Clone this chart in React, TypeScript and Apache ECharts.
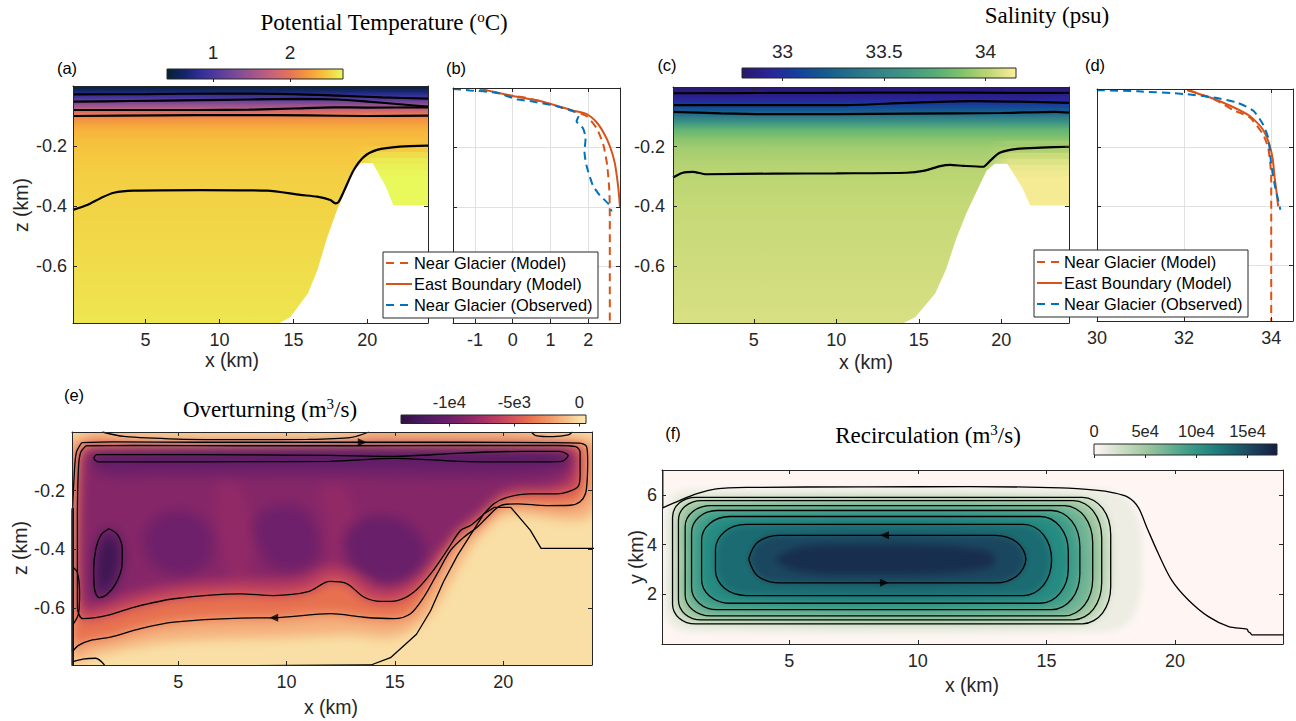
import React, { useEffect, useRef } from 'react';
import * as echarts from 'echarts';

// ===================== data =====================

// Bottom topography along the fjord section: distance x (km), bottom z (km)
const bathX = [0, 13.9, 14.8, 16.0, 16.65, 17.25, 17.9, 18.5, 19.1, 19.6, 20.35, 21.25, 21.75, 24.3];
const bathZ = [-0.8, -0.795, -0.77, -0.69, -0.61, -0.51, -0.42, -0.35, -0.28, -0.257, -0.257, -0.335, -0.397, -0.397];

// (a) potential temperature (°C) against depth in the main basin
const tempDepth = [0, -0.01, -0.02, -0.03, -0.04, -0.05, -0.06, -0.07, -0.08, -0.09, -0.1, -0.11, -0.13, -0.15, -0.18, -0.22, -0.3, -0.4, -0.55, -0.7, -0.79];
const tempBasin = [0.45, 0.55, 0.7, 0.85, 1.0, 1.2, 1.4, 1.6, 1.8, 2.0, 2.1, 2.18, 2.3, 2.37, 2.42, 2.46, 2.5, 2.52, 2.55, 2.58, 2.6];
// water held behind the sill (east of x ≈ 20 km)
const eastDepth = [-0.18, -0.2, -0.22, -0.24, -0.26, -0.28, -0.3, -0.34, -0.38, -0.42];
const tempEast = [2.42, 2.48, 2.56, 2.62, 2.65, 2.67, 2.68, 2.68, 2.68, 2.68];

// (c) salinity (psu) against depth
const salDepth = [0, -0.01, -0.02, -0.03, -0.04, -0.05, -0.06, -0.07, -0.08, -0.09, -0.1, -0.12, -0.14, -0.17, -0.2, -0.25, -0.3, -0.4, -0.6, -0.79];
const salBasin = [32.82, 32.84, 32.87, 32.9, 32.94, 33.0, 33.08, 33.15, 33.22, 33.32, 33.42, 33.62, 33.78, 33.89, 33.95, 33.99, 34.01, 34.03, 34.05, 34.07];
const salEast = [33.95, 33.98, 34.04, 34.08, 34.11, 34.12, 34.13, 34.13, 34.13, 34.13];

// (a) isotherms [x km, z km]
const tempIso1 = [[0.1, -0.028], [5, -0.027], [10, -0.025], [15, -0.027], [18, -0.032], [21, -0.038], [24.1, -0.042]];
const tempIso2 = [[0.1, -0.052], [4, -0.05], [8.7, -0.047], [12, -0.045], [15.5, -0.043], [18, -0.045], [20, -0.052], [22, -0.06], [24.1, -0.069]];
const tempIso3 = [[0.1, -0.08], [5, -0.08], [8.7, -0.08], [12, -0.079], [15, -0.075], [17.7, -0.071], [20, -0.072], [24.1, -0.071]];
const tempIso4 = [[0.1, -0.1], [6, -0.098], [11, -0.097], [16, -0.098], [20, -0.1], [24.1, -0.099]];
const tempIso5 = [[0.1, -0.413], [1.06, -0.397], [1.96, -0.374], [2.86, -0.356], [4.21, -0.349], [8.71, -0.347], [13.22, -0.349], [15.47, -0.363], [16.6, -0.369], [17.5, -0.38], [17.84, -0.391], [18.06, -0.386], [18.4, -0.352], [19.08, -0.28], [19.76, -0.236], [20.65, -0.213], [22.2, -0.202], [24.1, -0.199]];

// (c) isohalines
const salIso1 = [[0.1, -0.021], [6, -0.02], [12, -0.019], [18, -0.019], [24.1, -0.02]];
const salIso2 = [[0.1, -0.061], [5, -0.061], [10.2, -0.061], [14.3, -0.053], [18.3, -0.047], [21, -0.049], [24.1, -0.053]];
const salIso3 = [[0.1, -0.083], [3, -0.088], [6.15, -0.091], [10, -0.091], [14.3, -0.089], [20, -0.087], [23.3, -0.083], [24.1, -0.086]];
const salIso4 = [[0.1, -0.303], [0.7, -0.287], [1.3, -0.284], [2.1, -0.292], [6.15, -0.29], [10, -0.289], [14.25, -0.287], [15.26, -0.281], [16.3, -0.265], [16.9, -0.261], [17.7, -0.264], [18.9, -0.267], [19.3, -0.248], [19.9, -0.22], [20.95, -0.207], [22.4, -0.203], [24.1, -0.2]];

// (b) temperature profiles [°C, z km]
const tNearModel = [[-0.87, -0.003], [-0.42, -0.016], [-0.07, -0.025], [0.28, -0.031], [0.72, -0.044], [1.16, -0.061], [1.6, -0.078], [1.96, -0.095], [2.22, -0.135], [2.4, -0.191], [2.5, -0.259], [2.56, -0.349], [2.57, -0.44], [2.57, -0.79]];
const tEastModel = [[-0.87, -0.003], [-0.07, -0.025], [0.72, -0.044], [1.6, -0.076], [1.96, -0.088], [2.22, -0.115], [2.4, -0.149], [2.57, -0.195], [2.7, -0.251], [2.79, -0.33], [2.84, -0.4]];
const tNearObs = [[-1.58, -0.003], [-1.13, -0.008], [-0.43, -0.016], [0.11, -0.038], [0.46, -0.044], [1.16, -0.061], [1.6, -0.078], [1.74, -0.095], [1.69, -0.112], [1.86, -0.135], [1.93, -0.168], [1.9, -0.214], [1.95, -0.259], [2.12, -0.327], [2.3, -0.36], [2.53, -0.389], [2.62, -0.415]];

// (d) salinity profiles [psu, z km]
const sNearModel = [[32.11, -0.004], [32.76, -0.04], [33.13, -0.072], [33.51, -0.097], [33.81, -0.154], [33.93, -0.2], [33.98, -0.257], [34.0, -0.303], [34.0, -0.79]];
const sEastModel = [[32.07, -0.004], [32.6, -0.029], [33.06, -0.057], [33.51, -0.092], [33.78, -0.132], [33.93, -0.177], [34.03, -0.234], [34.08, -0.303], [34.12, -0.349], [34.16, -0.4]];
const sNearObs = [[30.0, -0.004], [30.94, -0.008], [32.0, -0.017], [32.68, -0.029], [33.21, -0.046], [33.59, -0.074], [33.81, -0.12], [33.93, -0.166], [33.97, -0.212], [34.0, -0.257], [34.08, -0.326], [34.15, -0.372], [34.21, -0.411]];
const legendLabels = ['Near Glacier (Model)', 'East Boundary (Model)', 'Near Glacier (Observed)'];

// (e) overturning streamfunction: contours [x km, z km]
const ovtIsoOuter = [[0.55, -0.036], [2, -0.034], [6, -0.035], [10, -0.035], [13.5, -0.035], [18, -0.035], [22, -0.036], [23.5, -0.038], [23.85, -0.05], [23.9, -0.1], [23.88, -0.16], [23.8, -0.21], [23.55, -0.238], [23.1, -0.25], [22, -0.251], [20.65, -0.245], [19.88, -0.251], [19.26, -0.291], [18.8, -0.325], [18.18, -0.359], [17.57, -0.404], [16.95, -0.484], [16.34, -0.563], [15.72, -0.62], [14.95, -0.637], [13.57, -0.632], [12.03, -0.62], [9.41, -0.634], [7.88, -0.635], [4.8, -0.649], [3.26, -0.671], [1.88, -0.7], [0.96, -0.711], [0.4, -0.728], [0.12, -0.75], [0.12, -0.3], [0.2, -0.15], [0.3, -0.07], [0.55, -0.036]];
const ovtIsoInner = [[0.75, -0.047], [3, -0.046], [8, -0.047], [13, -0.047], [18, -0.046], [22.5, -0.046], [23.35, -0.05], [23.55, -0.07], [23.55, -0.15], [23.42, -0.189], [22.49, -0.211], [21.26, -0.211], [20.18, -0.223], [19.57, -0.245], [18.95, -0.291], [18.49, -0.319], [18.03, -0.336], [17.41, -0.404], [16.65, -0.484], [15.88, -0.546], [15.11, -0.575], [14.34, -0.578], [13.57, -0.563], [12.8, -0.518], [12.0, -0.51], [11.0, -0.545], [9.41, -0.558], [7.88, -0.552], [4.8, -0.569], [2.95, -0.598], [1.72, -0.626], [0.6, -0.637], [0.35, -0.6], [0.35, -0.3], [0.4, -0.12], [0.5, -0.07], [0.75, -0.047]];
const ovtIsoTop = [[1.1, -0.09], [1.25, -0.077], [4, -0.077], [8, -0.078], [12, -0.08], [15, -0.083], [18, -0.072], [21, -0.066], [22.6, -0.066], [23.0, -0.08], [22.7, -0.1], [21, -0.102], [18, -0.1], [15, -0.09], [12, -0.1], [8, -0.101], [4, -0.102], [1.3, -0.102], [1.1, -0.09]];
const ovtIsoWest = [[1.8, -0.33], [2.2, -0.35], [2.42, -0.4], [2.4, -0.46], [2.1, -0.52], [1.7, -0.555], [1.35, -0.565], [1.15, -0.54], [1.1, -0.47], [1.2, -0.4], [1.45, -0.35], [1.8, -0.33]];
const ovtIsoSurface = [[1.5, 0], [2.5, -0.015], [5, -0.024], [8, -0.026], [11, -0.025], [13, -0.018], [13.8, 0]];
const ovtIsoCorner = [[21.3, 0], [21.5, -0.012], [22.3, -0.016], [23, -0.01], [23.2, 0]];
const ovtIsoFloor = [[0.1, -0.785], [0.6, -0.775], [1.2, -0.772], [1.6, -0.795]];
const ovtIsoWall = [[0.13, -0.26], [0.13, -0.795]];
const ovtIsoWallLoop = [[0.12, -0.46], [0.35, -0.48], [0.45, -0.55], [0.4, -0.62], [0.12, -0.66]];
// (e) shaded regions of the streamfunction that carry no contour
const ovtHalo = [[0.1, -0.022], [24.05, -0.022], [24.1, -0.28], [20.3, -0.28], [19.5, -0.31], [18.5, -0.39], [17.6, -0.5], [16.8, -0.6], [15.9, -0.67], [14.8, -0.7], [13, -0.69], [10, -0.7], [7, -0.705], [4, -0.72], [1.8, -0.75], [0.8, -0.77], [0.1, -0.79]];
const ovtInterior = [[1, -0.06], [23, -0.06], [23.2, -0.14], [22.3, -0.185], [20.2, -0.2], [19.2, -0.26], [18, -0.33], [16.8, -0.43], [15.6, -0.51], [14.4, -0.53], [13.2, -0.48], [12, -0.455], [10.6, -0.5], [8, -0.505], [5, -0.52], [3, -0.55], [1.5, -0.585], [0.6, -0.59], [0.55, -0.1]];
const ovtStreakA = [[6.8, -0.18], [7.6, -0.17], [8.4, -0.3], [8.3, -0.48], [7.4, -0.5], [6.9, -0.35]];
const ovtStreakB = [[11.5, -0.2], [12.5, -0.18], [13.2, -0.3], [12.8, -0.42], [12.0, -0.44], [11.8, -0.3]];
const ovtBlobA = [[3.4, -0.35], [4.2, -0.28], [5.4, -0.27], [6.4, -0.32], [6.6, -0.41], [6.0, -0.47], [5, -0.49], [3.8, -0.45]];
const ovtBlobB = [[8.5, -0.3], [9.5, -0.25], [10.7, -0.26], [11.4, -0.33], [11.4, -0.43], [10.5, -0.47], [9.4, -0.46], [8.6, -0.38]];
const ovtBlobC = [[12.7, -0.35], [13.8, -0.29], [15.3, -0.3], [16.3, -0.37], [16.3, -0.46], [15.3, -0.51], [14, -0.51], [12.9, -0.44]];
const ovtBand = [[1.2, -0.065], [22.8, -0.06], [23, -0.11], [21, -0.15], [12, -0.15], [4, -0.15], [1.3, -0.14]];
const ovtCoreTop = [[3, -0.082], [22, -0.072], [22.4, -0.085], [21, -0.095], [3, -0.097]];
const ovtCoreWest = [[1.6, -0.38], [2.1, -0.38], [2.15, -0.45], [1.8, -0.52], [1.4, -0.53], [1.3, -0.45]];
const ovtPolys = [ovtHalo, ovtIsoOuter, ovtIsoInner, ovtInterior, ovtStreakA, ovtStreakB, ovtBlobA, ovtBlobB, ovtBlobC, ovtBand, ovtIsoTop, ovtCoreTop, ovtIsoWest, ovtCoreWest, ovtIsoSurface];
const ovtValues = [-1500, -3800, -6400, -8800, -8200, -8200, -9800, -9800, -10100, -9900, -11200, -11900, -11800, -12800, 300];
const ovtArrowRight = [[13.5, -0.035]];
const ovtArrowLeft = [[9.41, -0.634]];

// (f) recirculation streamfunction: closed contours, inner to outer [x km, y km]
const recLoop1 = [[3.42, 3.42], [3.77, 4.09], [4.62, 4.37], [13.0, 4.37], [13.85, 4.09], [14.2, 3.42], [13.85, 2.74], [13.0, 2.46], [4.62, 2.46], [3.77, 2.74], [3.42, 3.42]];
const recLoop2 = [[2.13, 3.38], [2.13, 3.81], [2.48, 4.52], [3.33, 4.81], [14.1, 4.81], [14.88, 4.4], [15.2, 3.38], [14.88, 2.36], [14.1, 1.95], [3.33, 1.95], [2.48, 2.24], [2.13, 2.95], [2.13, 3.38]];
const recLoop3 = [[1.59, 3.385], [1.59, 4.18], [1.91, 4.85], [2.69, 5.13], [14.75, 5.13], [15.53, 4.72], [15.85, 3.73], [15.85, 3.04], [15.53, 2.05], [14.75, 1.64], [2.69, 1.64], [1.91, 1.92], [1.59, 2.59], [1.59, 3.385]];
const recLoop4 = [[1.2, 3.375], [1.2, 4.47], [1.49, 5.11], [2.2, 5.37], [15.2, 5.37], [15.98, 4.95], [16.3, 3.92], [16.3, 2.83], [15.98, 1.8], [15.2, 1.38], [2.2, 1.38], [1.49, 1.64], [1.2, 2.28], [1.2, 3.375]];
const recLoop5 = [[0.95, 3.35], [0.95, 4.72], [1.24, 5.32], [1.95, 5.57], [15.7, 5.57], [16.48, 5.135], [16.8, 4.07], [16.8, 2.63], [16.48, 1.565], [15.7, 1.13], [1.95, 1.13], [1.24, 1.38], [0.95, 1.98], [0.95, 3.35]];
const recLoop6 = [[0.69, 3.37], [0.69, 4.97], [0.95, 5.54], [1.59, 5.77], [16.05, 5.77], [16.83, 5.335], [17.15, 4.27], [17.15, 2.47], [16.83, 1.405], [16.05, 0.97], [1.59, 0.97], [0.95, 1.2], [0.69, 1.77], [0.69, 3.37]];
const recLoop7 = [[0.46, 3.355], [0.46, 5.1], [0.72, 5.67], [1.36, 5.9], [16.4, 5.9], [17.18, 5.465], [17.5, 4.4], [17.5, 2.31], [17.18, 1.245], [16.4, 0.81], [1.36, 0.81], [0.72, 1.04], [0.46, 1.61], [0.46, 3.355]];
const recOuter = [[0.08, 6.97], [0.08, 5.48], [0.73, 5.77], [1.38, 6.04], [2.16, 6.24], [3.34, 6.3], [8, 6.32], [12, 6.33], [15.57, 6.28], [17.0, 6.18], [17.52, 6.1], [18.18, 5.9], [18.57, 5.5], [18.9, 4.7], [19.35, 3.64], [19.87, 2.57], [20.52, 1.77], [21.3, 1.1], [22.09, 0.7], [22.8, 0.6], [22.85, 0.5], [22.93, 0.44], [23.0, 0.37], [24.2, 0.37]];
const recHalo = [[0.15, 3.35], [0.15, 5.4], [0.5, 6.05], [1.3, 6.25], [16.8, 6.25], [18.1, 5.9], [18.65, 4.8], [18.7, 3.35], [18.65, 1.9], [18.1, 0.75], [16.8, 0.45], [1.3, 0.45], [0.5, 0.65], [0.15, 1.3]];
const recCore = [[4.5, 3.4], [5.5, 3.9], [8, 4.0], [11, 3.95], [12.8, 3.7], [13, 3.4], [12.8, 3.1], [11, 2.85], [8, 2.8], [5.5, 2.9]];
const recLoops = [recLoop1, recLoop2, recLoop3, recLoop4, recLoop5, recLoop6, recLoop7];
const recPolys = [recHalo, recLoop7, recLoop6, recLoop5, recLoop4, recLoop3, recLoop2, recLoop1, recCore];
const recValues = [10000, 30000, 50000, 70000, 90000, 110000, 131000, 153000, 168000];
const recArrowLeft = [[8.7, 4.37]];
const recArrowRight = [[8.7, 2.46]];

// axis ranges and tick values
const secX = [0.1, 24.1];
const secZ = [-0.79, 0];
const ovtZ = [-0.795, 0];
const tProfX = [-1.58, 2.84];
const sProfX = [30, 34.5];
const recX = [0.05, 24.2];
const recY = [0, 7];
const kmTicks = [5, 10, 15, 20];
const zTicks = [-0.6, -0.4, -0.2];
const tProfTicks = [-1, 0, 1, 2];
const sProfTicks = [30, 32, 34];
const yKmTicks = [2, 4, 6];

// colour scales
const tempRange = [0.4, 2.69];
const salRange = [32.8, 34.15];
const ovtRange = [-13715, 515];
const recRange = [0, 178800];
const tempCbTicks = [1, 2];
const salCbTicks = [33, 33.5, 34];
const ovtCbTicks = [-10000, -5000, 0];
const ovtCbLabels = ['-1e4', '-5e3', '0'];
const recCbTicks = [0, 50000, 100000, 150000];
const recCbLabels = ['0', '5e4', '10e4', '15e4'];

const THERMAL: [number, string][] = [[0, '#042333'], [0.1, '#14246a'], [0.2, '#34309a'], [0.3, '#5a3c9c'], [0.4, '#7e4b96'], [0.5, '#a4568b'], [0.6, '#c9627a'], [0.7, '#e67357'], [0.8, '#f69a3c'], [0.9, '#f6c63e'], [1, '#e8fa5b']];
const HALINE: [number, string][] = [[0, '#2a186c'], [0.1, '#2a2399'], [0.2, '#153f9c'], [0.3, '#145a8f'], [0.4, '#25708a'], [0.5, '#338487'], [0.6, '#3f9782'], [0.7, '#55ab78'], [0.8, '#80c26b'], [0.9, '#bed673'], [1, '#fdef9a']];
const MATTER: [number, string][] = [[0, '#2e1141'], [0.12, '#4b1a5e'], [0.26, '#6a1f6a'], [0.4, '#962a67'], [0.5, '#b83a60'], [0.61, '#d65459'], [0.7, '#e8724f'], [0.8, '#f29766'], [0.9, '#f6c08c'], [0.96, '#f9dea4'], [1, '#fbe6b1']];
const TEMPO: [number, string][] = [[0, '#fff6f4'], [0.08, '#e5e9dc'], [0.17, '#c5dbbf'], [0.28, '#a0c8a0'], [0.39, '#72b495'], [0.5, '#44a08a'], [0.62, '#258a82'], [0.73, '#1b6d72'], [0.84, '#1c4b62'], [1, '#151d44']];

// ===================== layout & style =====================
const W = 1296;
const H = 721;
const PAD = 20;
const AXC = '#262626';
const TXT = '#262626';
const ORANGE = '#D95319';
const BLUE = '#0072BD';
const SANS = '"Liberation Sans", Arial, Helvetica, sans-serif';
const SERIF = '"Liberation Serif", "Times New Roman", serif';
const TICK_FS = 18;
const TITLE_FS = 23;

const PANEL: any = {
  a: { left: 73, top: 86, width: 355, height: 237 },
  b: { left: 453, top: 88, width: 167, height: 235 },
  c: { left: 673, top: 87, width: 396, height: 236 },
  d: { left: 1097, top: 89, width: 196, height: 232 },
  e: { left: 72, top: 432, width: 520, height: 233 },
  f: { left: 662, top: 470, width: 621, height: 174 },
};
const CBAR: any = {
  a: { left: 167, top: 69, width: 176, height: 10 },
  c: { left: 742, top: 68, width: 274, height: 10 },
  e: { left: 401, top: 415, width: 185, height: 8.5 },
  f: { left: 1094, top: 444, width: 183, height: 11 },
};

// ===================== helpers =====================
function makeCmap(stops: [number, string][], lo: number, hi: number) {
  const rgb = stops.map(([t, h]) => [t, parseInt(h.slice(1, 3), 16), parseInt(h.slice(3, 5), 16), parseInt(h.slice(5, 7), 16)]);
  return (v: number) => {
    const t = Math.min(1, Math.max(0, (v - lo) / (hi - lo)));
    for (let i = 1; i < rgb.length; i++) {
      if (t <= rgb[i][0]) {
        const a = rgb[i - 1];
        const b = rgb[i];
        const f = (t - a[0]) / (b[0] - a[0] || 1);
        return [a[1] + (b[1] - a[1]) * f, a[2] + (b[2] - a[2]) * f, a[3] + (b[3] - a[3]) * f];
      }
    }
    const l = rgb[rgb.length - 1];
    return [l[1], l[2], l[3]];
  };
}
function css(c: number[], a = 1) {
  return `rgba(${Math.round(c[0])},${Math.round(c[1])},${Math.round(c[2])},${a})`;
}
function gradient(stops: [number, string][]) {
  return { type: 'linear', x: 0, y: 0, x2: 1, y2: 0, colorStops: stops.map(([t, h]) => ({ offset: t, color: h })) };
}
const tempCmap = makeCmap(THERMAL, tempRange[0], tempRange[1]);
const salCmap = makeCmap(HALINE, salRange[0], salRange[1]);
const ovtCmap = makeCmap(MATTER, ovtRange[0], ovtRange[1]);
const recCmap = makeCmap(TEMPO, recRange[0], recRange[1]);

function bands(depth: number[], vals: number[]) {
  return depth.slice(0, -1).map((z, i) => [z, depth[i + 1], vals[i], vals[i + 1]]);
}
function bandRenderer(cmap: any, x0: number, x1: number) {
  return (params: any, api: any) => {
    const p0 = api.coord([x0, api.value(0)]);
    const p1 = api.coord([x1, api.value(1)]);
    return {
      type: 'rect',
      shape: { x: p0[0], y: p0[1], width: p1[0] - p0[0], height: p1[1] - p0[1] + 0.7 },
      style: {
        fill: {
          type: 'linear', x: 0, y: 0, x2: 0, y2: 1,
          colorStops: [{ offset: 0, color: css(cmap(api.value(2))) }, { offset: 1, color: css(cmap(api.value(3))) }],
        },
      },
    };
  };
}
function fadeRenderer(cmap: any, x0: number, xFull: number, x1: number) {
  return (params: any, api: any) => {
    const p0 = api.coord([x0, api.value(0)]);
    const p1 = api.coord([x1, api.value(1)]);
    const c = cmap(api.value(2));
    const f = (xFull - x0) / (x1 - x0);
    return {
      type: 'rect',
      shape: { x: p0[0], y: p0[1], width: p1[0] - p0[0], height: p1[1] - p0[1] + 0.7 },
      style: {
        fill: {
          type: 'linear', x: 0, y: 0, x2: 1, y2: 0,
          colorStops: [{ offset: 0, color: css(c, 0) }, { offset: f, color: css(c, 1) }, { offset: 1, color: css(c, 1) }],
        },
      },
    };
  };
}

function boxAxis(position: string, gridIndex: number, range: number[], ticks: number[], showLabel: boolean, margin = 8) {
  return {
    type: 'value', gridIndex, position, min: range[0], max: range[1], z: 10,
    axisLine: { show: true, onZero: false, lineStyle: { color: AXC, width: 1 } },
    axisTick: { show: true, inside: true, length: 4, customValues: ticks, lineStyle: { color: AXC, width: 1 } },
    axisLabel: { show: showLabel, customValues: ticks, color: TXT, fontSize: TICK_FS, fontFamily: SANS, margin },
    splitLine: { show: false },
    axisPointer: { show: false },
  };
}
function gridLineAxis(gridIndex: number, range: number[], position: string, interval?: number) {
  const ax: any = {
    type: 'value', gridIndex, position, min: range[0], max: range[1], z: 0,
    axisLine: { show: false }, axisTick: { show: false }, axisLabel: { show: false },
    splitLine: { show: true, lineStyle: { color: '#e1e1e1', width: 1 } },
  };
  if (interval) ax.interval = interval;
  return ax;
}

function text(str: string, x: number, y: number, size: number, extra: any = {}) {
  return {
    type: 'text', x, y, z: 100, rotation: extra.rotation || 0,
    style: {
      text: str, x: 0, y: 0, fill: extra.color || TXT, fontSize: size, fontFamily: extra.font || SANS,
      textAlign: extra.align || 'center', textVerticalAlign: 'middle', align: extra.align || 'center', verticalAlign: 'middle',
    },
  };
}
function richTitle(pre: string, sup: string, post: string, x: number, y: number) {
  const n = { fontSize: TITLE_FS, fontFamily: SERIF, fill: '#000', color: '#000', verticalAlign: 'bottom', lineHeight: 28 };
  const s = { fontSize: 15, fontFamily: SERIF, fill: '#000', color: '#000', verticalAlign: 'bottom', lineHeight: 28, padding: [0, 0, 10, 0] };
  return {
    type: 'text', x, y, z: 100,
    style: {
      text: `{n|${pre}}{s|${sup}}{n|${post}}`, rich: { n, s }, x: 0, y: 0,
      textAlign: 'center', textVerticalAlign: 'middle', align: 'center', verticalAlign: 'middle',
    },
  };
}
function legendBox(box: number[], lineX: number[], textX: number, rowY: number[]) {
  const styles = [{ color: ORANGE, dash: [8, 6] }, { color: ORANGE, dash: null }, { color: BLUE, dash: [8, 6] }];
  const els: any[] = [{ type: 'rect', z: 90, shape: { x: box[0], y: box[1], width: box[2], height: box[3] }, style: { fill: '#fff', stroke: AXC, lineWidth: 1 } }];
  legendLabels.forEach((label, i) => {
    const st: any = { stroke: styles[i].color, lineWidth: 2 };
    if (styles[i].dash) st.lineDash = styles[i].dash;
    els.push({ type: 'line', z: 91, shape: { x1: lineX[0], y1: rowY[i], x2: lineX[1], y2: rowY[i] }, style: st });
    els.push(text(label, textX, rowY[i], 16.4, { align: 'left', color: '#000' }));
  });
  return els;
}

function fieldOption(r: any, xr: number[], yr: number[], polys: number[][][], vals: number[], cmap: any) {
  return {
    animation: false,
    backgroundColor: css(cmap(0)),
    grid: { left: PAD, top: PAD, width: r.width, height: r.height, show: false, outerBoundsMode: 'none' },
    xAxis: { type: 'value', min: xr[0], max: xr[1], show: false },
    yAxis: { type: 'value', min: yr[0], max: yr[1], show: false },
    series: [{
      type: 'custom', clip: false, silent: true, data: vals,
      renderItem: (params: any, api: any) => {
        const poly = polys[params.dataIndex];
        return {
          type: 'polygon',
          shape: { points: poly.map((p) => api.coord(p)), smooth: 0.35 },
          style: { fill: css(cmap(api.value(0))) },
        };
      },
    }],
  };
}

function mainOption() {
  const grid: any[] = [];
  const xAxis: any[] = [];
  const yAxis: any[] = [];
  const series: any[] = [];
  const graphic: any[] = [];

  const addPanel = (r: any, xr: number[], yr: number[], xt: number[], yt: number[], showX: boolean, showY: boolean, yMargin = 7) => {
    grid.push({ ...r, show: false, outerBoundsMode: 'none' });
    const gi = grid.length - 1;
    const xi = xAxis.length;
    const yi = yAxis.length;
    xAxis.push(boxAxis('bottom', gi, xr, xt, showX, 8), boxAxis('top', gi, xr, xt, false));
    yAxis.push(boxAxis('left', gi, yr, yt, showY, yMargin), boxAxis('right', gi, yr, yt, false));
    return { gi, xi, yi };
  };
  const addColorbar = (r: any, range: number[], stops: [number, string][], ticks: number[], labels: string[] | null, fs: number, margin: number) => {
    grid.push({ ...r, show: true, backgroundColor: gradient(stops), borderColor: AXC, borderWidth: 1, outerBoundsMode: 'none' });
    const gi = grid.length - 1;
    xAxis.push({
      type: 'value', gridIndex: gi, position: 'top', min: range[0], max: range[1], z: 10,
      axisLine: { show: false },
      axisTick: { show: true, inside: true, length: 3, customValues: ticks, lineStyle: { color: AXC, width: 1 } },
      axisLabel: {
        show: true, customValues: ticks, color: TXT, fontSize: fs, fontFamily: SANS, margin,
        formatter: (v: number) => (labels ? labels[ticks.indexOf(v)] ?? String(v) : String(v)),
      },
      splitLine: { show: false },
    });
    yAxis.push({ type: 'value', gridIndex: gi, min: 0, max: 1, show: false });
  };
  const line = (data: any, p: any, color: string, width: number, smooth: number, dash?: number[]) => ({
    type: 'line', xAxisIndex: p.xi, yAxisIndex: p.yi, data, symbol: 'none', showSymbol: false, smooth, silent: true, z: 4,
    lineStyle: { color, width, type: dash || 'solid' }, clip: true,
  });
  const arrow = (data: any, p: any, rot: number) => ({
    type: 'scatter', xAxisIndex: p.xi, yAxisIndex: p.yi, data, symbol: 'triangle', symbolSize: [8, 9], symbolRotate: rot,
    itemStyle: { color: '#000' }, silent: true, z: 6,
  });

  // ---- (a) potential temperature section
  const pa = addPanel(PANEL.a, secX, secZ, kmTicks, zTicks, true, true, 6);
  series.push({ type: 'custom', xAxisIndex: pa.xi, yAxisIndex: pa.yi, clip: true, silent: true, z: 1, data: bands(tempDepth, tempBasin), renderItem: bandRenderer(tempCmap, secX[0], secX[1]) });
  series.push({ type: 'custom', xAxisIndex: pa.xi, yAxisIndex: pa.yi, clip: true, silent: true, z: 1, data: eastDepth.slice(0, -1).map((z, i) => [z, eastDepth[i + 1], tempEast[i]]), renderItem: fadeRenderer(tempCmap, 19.2, 20.5, secX[1]) });
  // ---- (c) salinity section
  const pc = addPanel(PANEL.c, secX, secZ, kmTicks, zTicks, true, true, 8);
  series.push({ type: 'custom', xAxisIndex: pc.xi, yAxisIndex: pc.yi, clip: true, silent: true, z: 1, data: bands(salDepth, salBasin), renderItem: bandRenderer(salCmap, secX[0], secX[1]) });
  series.push({ type: 'custom', xAxisIndex: pc.xi, yAxisIndex: pc.yi, clip: true, silent: true, z: 1, data: eastDepth.slice(0, -1).map((z, i) => [z, eastDepth[i + 1], salEast[i]]), renderItem: fadeRenderer(salCmap, 19.2, 20.5, secX[1]) });
  // topography masks
  const bathPoly = bathX.map((x, i) => [x, bathZ[i]]).concat([[24.3, -0.9], [0, -0.9]]);
  [pa, pc].forEach((p) => {
    series.push({
      type: 'custom', xAxisIndex: p.xi, yAxisIndex: p.yi, clip: true, silent: true, z: 2, data: [0],
      renderItem: (params: any, api: any) => ({ type: 'polygon', shape: { points: bathPoly.map((pt) => api.coord(pt)) }, style: { fill: '#ffffff' } }),
    });
  });
  [tempIso1, tempIso2, tempIso3, tempIso4, tempIso5].forEach((d) => series.push(line(d, pa, '#000', 2.2, 0.25)));
  [salIso1, salIso2, salIso3, salIso4].forEach((d) => series.push(line(d, pc, '#000', 2.2, 0.25)));

  // ---- (b) temperature profiles
  const pb = addPanel(PANEL.b, tProfX, secZ, tProfTicks, zTicks, true, false);
  xAxis.push(gridLineAxis(pb.gi, tProfX, 'bottom'));
  yAxis.push(gridLineAxis(pb.gi, secZ, 'left'));
  series.push(line(tNearModel, pb, ORANGE, 2, 0.2, [8, 5]));
  series.push(line(tEastModel, pb, ORANGE, 2, 0.2));
  series.push(line(tNearObs, pb, BLUE, 2, 0.2, [8, 5]));

  // ---- (d) salinity profiles
  const pd = addPanel(PANEL.d, sProfX, secZ, sProfTicks, zTicks, true, false);
  xAxis.push(gridLineAxis(pd.gi, sProfX, 'bottom', 2));
  yAxis.push(gridLineAxis(pd.gi, secZ, 'left'));
  series.push(line(sNearModel, pd, ORANGE, 2, 0.2, [8, 5]));
  series.push(line(sEastModel, pd, ORANGE, 2, 0.2));
  series.push(line(sNearObs, pd, BLUE, 2, 0.2, [8, 5]));

  // ---- (e) overturning contours (shading is drawn underneath)
  const pe = addPanel(PANEL.e, secX, ovtZ, kmTicks, zTicks, true, true, 7);
  [ovtIsoOuter, ovtIsoInner, ovtIsoTop, ovtIsoWest, ovtIsoSurface, ovtIsoCorner, ovtIsoFloor, ovtIsoWallLoop].forEach((d) => series.push(line(d, pe, '#000', 1.3, 0.3)));
  series.push(line(bathX.map((x, i) => [x, bathZ[i]]), pe, '#000', 1.3, 0));
  series.push(line(ovtIsoWall, pe, '#000', 2.5, 0));
  series.push(arrow(ovtArrowRight, pe, -90));
  series.push(arrow(ovtArrowLeft, pe, 90));

  // ---- (f) recirculation contours
  const pf = addPanel(PANEL.f, recX, recY, kmTicks, yKmTicks, true, true, 5);
  recLoops.forEach((d) => series.push(line(d, pf, '#000', 1.3, 0.35)));
  series.push(line(recOuter, pf, '#000', 1.3, 0.3));
  series.push(arrow(recArrowLeft, pf, 90));
  series.push(arrow(recArrowRight, pf, -90));

  // ---- colourbars
  addColorbar(CBAR.a, tempRange, THERMAL, tempCbTicks, null, 19, 7);
  addColorbar(CBAR.c, salRange, HALINE, salCbTicks, null, 19, 7);
  addColorbar(CBAR.e, ovtRange, MATTER, ovtCbTicks, ovtCbLabels, 16.5, 5);
  addColorbar(CBAR.f, recRange, TEMPO, recCbTicks, recCbLabels, 16.5, 5);

  // ---- titles, panel letters, axis names, legends
  graphic.push(richTitle('Potential Temperature (', 'o', 'C)', 384, 20));
  graphic.push(text('Salinity (psu)', 1047, 15, TITLE_FS, { font: SERIF, color: '#000' }));
  graphic.push(richTitle('Overturning (m', '3', '/s)', 270, 407));
  graphic.push(richTitle('Recirculation (m', '3', '/s)', 928, 433));
  [['(a)', 67, 68], ['(b)', 456, 68], ['(c)', 667, 65], ['(d)', 1095, 65], ['(e)', 74, 395], ['(f)', 673, 433]].forEach(
    ([s, x, y]: any) => graphic.push(text(s, x, y, 16.5, { color: '#000' }))
  );
  graphic.push(text('x (km)', 232, 360, 19.5));
  graphic.push(text('x (km)', 866, 362, 19.5));
  graphic.push(text('x (km)', 331, 707, 19.5));
  graphic.push(text('x (km)', 972, 685, 19.5));
  graphic.push(text('z (km)', 21, 205, 19.5, { rotation: Math.PI / 2 }));
  graphic.push(text('z (km)', 20, 548, 19.5, { rotation: Math.PI / 2 }));
  graphic.push(text('y (km)', 636, 557, 19.5, { rotation: Math.PI / 2 }));
  legendBox([383, 252, 215, 66], [386, 412], 414, [263, 284, 305]).forEach((e) => graphic.push(e));
  legendBox([1034, 250, 214, 67], [1037, 1062], 1064, [262, 283, 304]).forEach((e) => graphic.push(e));

  return { animation: false, grid, xAxis, yAxis, series, graphic: { elements: graphic } };
}

// ===================== component =====================
export default function App() {
  const mainRef = useRef<HTMLDivElement>(null);
  const ovtRef = useRef<HTMLDivElement>(null);
  const recRef = useRef<HTMLDivElement>(null);

  useEffect(() => {
    const charts: any[] = [];
    if (ovtRef.current) {
      const c = echarts.init(ovtRef.current, null, { renderer: 'svg' });
      c.setOption(fieldOption(PANEL.e, secX, ovtZ, ovtPolys, ovtValues, ovtCmap));
      charts.push(c);
    }
    if (recRef.current) {
      const c = echarts.init(recRef.current, null, { renderer: 'svg' });
      c.setOption(fieldOption(PANEL.f, recX, recY, recPolys, recValues, recCmap));
      charts.push(c);
    }
    if (mainRef.current) {
      const c = echarts.init(mainRef.current, null, { renderer: 'svg' });
      c.setOption(mainOption());
      charts.push(c);
    }
    return () => charts.forEach((c) => c.dispose());
  }, []);

  const layer = (r: any, ref: any, blur: number) => (
    <div style={{ position: 'absolute', left: r.left, top: r.top, width: r.width, height: r.height, overflow: 'hidden' }}>
      <div ref={ref} style={{ position: 'absolute', left: -PAD, top: -PAD, width: r.width + 2 * PAD, height: r.height + 2 * PAD, filter: `blur(${blur}px)` }} />
    </div>
  );

  return (
    <div style={{ position: 'fixed', left: 0, top: 0, width: W, height: H, background: '#fff', overflow: 'hidden' }}>
      {layer(PANEL.e, ovtRef, 6)}
      {layer(PANEL.f, recRef, 3.5)}
      <div ref={mainRef} style={{ position: 'absolute', left: 0, top: 0, width: W, height: H }} />
    </div>
  );
}
